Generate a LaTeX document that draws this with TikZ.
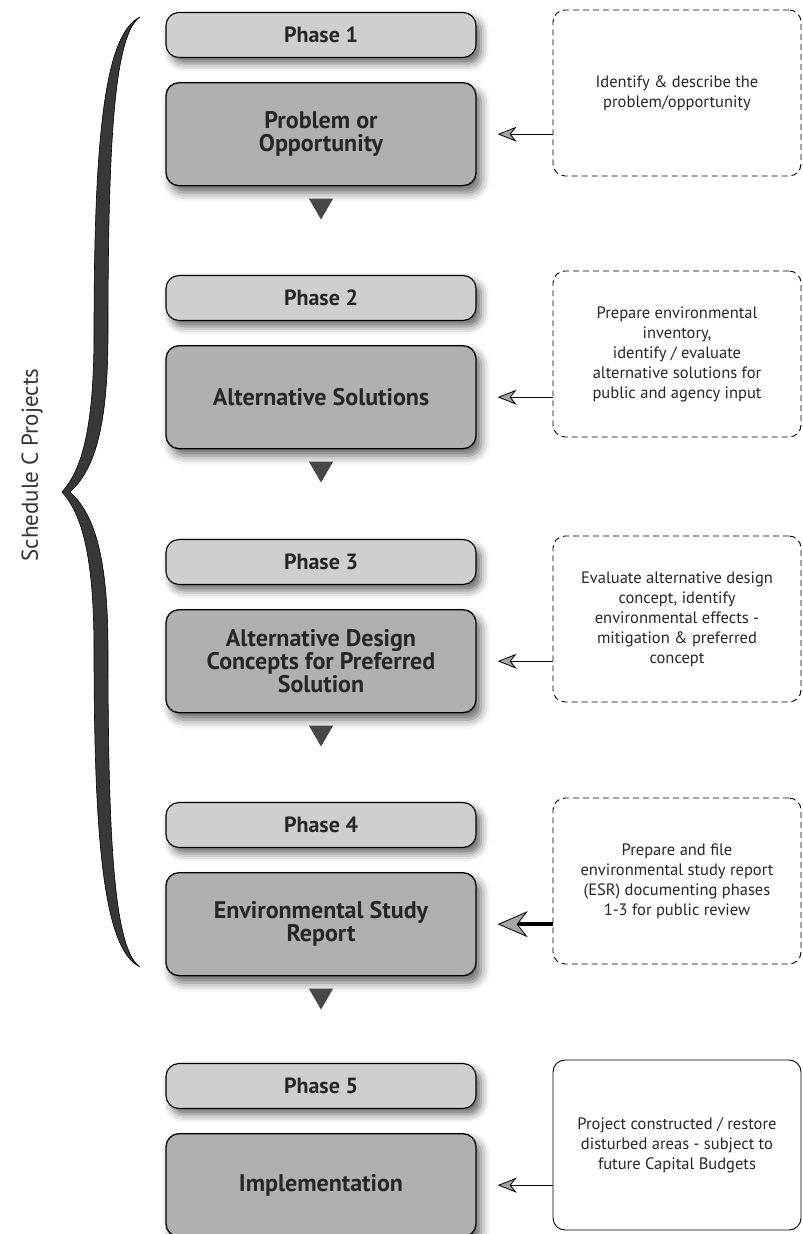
\documentclass[tikz,border=0pt]{standalone}
\usepackage{fontspec}
\setmainfont{PT Sans}
\usetikzlibrary{arrows.meta,positioning,shapes.geometric,shadows.blur}

\begin{document}
\begin{tikzpicture}[x=1pt,y=1pt,node distance=24pt,
	phasebox/.style={draw=black,line width=1.1pt,rounded corners=13pt,fill=gray!38,text=black!85,minimum width=310pt,minimum height=45pt,font=\bfseries\fontsize{22}{24}\selectfont,blur shadow={shadow xshift=5pt,shadow yshift=-6pt,shadow blur radius=8pt,shadow opacity=60}},
	stagebox/.style={draw=black,line width=1.3pt,rounded corners=13pt,fill=gray!62,text=black!85,minimum width=310pt,minimum height=103pt,align=center,font=\bfseries\fontsize{24}{23}\selectfont,blur shadow={shadow xshift=5pt,shadow yshift=-7pt,shadow blur radius=9pt,shadow opacity=60}},
	tribox/.style={regular polygon,regular polygon sides=3,shape border rotate=180,fill=black!72,minimum size=28pt,inner sep=0pt},
	notebox/.style={draw=black,dash pattern=on 6pt off 4pt,line width=0.9pt,rounded corners=12pt,minimum width=248pt,minimum height=166pt,align=center,text=black!85,font=\fontsize{16.5}{20}\selectfont},
	feedarrow/.style={-{Stealth[length=19pt,width=15pt,inset=6pt,fill=gray!70]},line width=0.8pt}]
	
	\useasboundingbox (0,0) rectangle (803,1234);
	
	% schedule c brace
	\fill[black!78,draw=black,line width=0.6pt] (140,1217) .. controls (105,1200) and (94,1100) .. (94,900)
		.. controls (94,800) and (80,762) .. (62,742)
		.. controls (80,722) and (94,684) .. (94,584)
		.. controls (94,384) and (105,284) .. (140,267)
		.. controls (115,284) and (108,384) .. (108,584)
		.. controls (108,684) and (92,722) .. (70,742)
		.. controls (92,762) and (108,800) .. (108,900)
		.. controls (108,1100) and (115,1200) .. (140,1217) -- cycle;
	\node[rotate=90,text=black!80,font=\fontsize{23}{26}\selectfont] (sched) at (32,769) {Schedule C Projects};
	
	% phase 1
	\node[phasebox] (ph1) at (321,1199) {Phase 1};
	\node[stagebox] (st1) [below=of ph1] {Problem or\\Opportunity};
	\node[tribox] (tri1) [below=12pt of st1] {};
	\node[notebox] (nt1) at (677,1141) {Identify \& describe the\\problem/opportunity};
	\draw[feedarrow] (nt1.west |- st1.east) -- ([xshift=21pt]st1.east);
	
	% phase 2
	\node[phasebox] (ph2) at (321,936) {Phase 2};
	\node[stagebox] (st2) [below=of ph2] {Alternative Solutions};
	\node[tribox] (tri2) [below=12pt of st2] {};
	\node[notebox] (nt2) at (677,880) {Prepare environmental\\inventory,\\identify / evaluate\\alternative solutions for\\public and agency input};
	\draw[feedarrow] (nt2.west |- st2.east) -- ([xshift=21pt]st2.east);
	
	% phase 3
	\node[phasebox] (ph3) at (321,672) {Phase 3};
	\node[stagebox] (st3) [below=of ph3] {Alternative Design\\Concepts for Preferred\\Solution};
	\node[tribox] (tri3) [below=12pt of st3] {};
	\node[notebox] (nt3) at (677,615) {Evaluate alternative design\\concept, identify\\environmental effects -\\mitigation \& preferred\\concept};
	\draw[feedarrow] (nt3.west |- st3.east) -- ([xshift=21pt]st3.east);
	
	% phase 4
	\node[phasebox] (ph4) at (321,409) {Phase 4};
	\node[stagebox] (st4) [below=of ph4] {Environmental Study\\Report};
	\node[tribox] (tri4) [below=12pt of st4] {};
	\node[notebox] (nt4) at (677,353) {Prepare and file\\environmental study report\\(ESR) documenting phases\\1-3 for public review};
	\draw[feedarrow,line width=3.5pt,-{Stealth[length=30pt,width=26pt,inset=10pt,fill=gray!70,line width=0.8pt]}] (nt4.west |- st4.east) -- ([xshift=21pt]st4.east);
	
	% phase 5
	\node[phasebox] (ph5) at (321,148) {Phase 5};
	\node[stagebox] (st5) [below=of ph5] {Implementation};
	\node[notebox,solid,minimum height=170pt] (nt5) at (677,89) {Project constructed / restore\\disturbed areas - subject to\\future Capital Budgets};
	\draw[feedarrow] (nt5.west |- st5.east) -- ([xshift=21pt]st5.east);
	
\end{tikzpicture}
\end{document}
